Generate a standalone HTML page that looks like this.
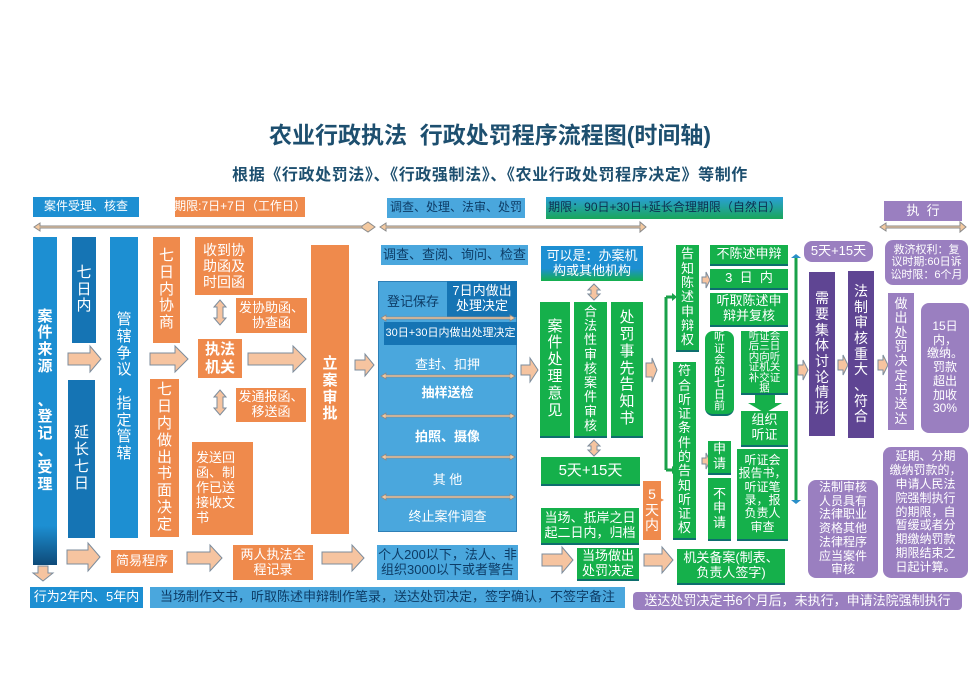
<!DOCTYPE html>
<html><head><meta charset="utf-8">
<style>
body{margin:0;width:980px;height:693px;background:#fff;position:relative;overflow:hidden;font-family:"Liberation Sans","Noto Sans CJK SC",sans-serif;}
.b{position:absolute;box-sizing:border-box;color:#fff;display:flex;align-items:center;justify-content:center;text-align:center;line-height:1.15;font-size:13px;white-space:nowrap;overflow:hidden;}
.bl{background:#1d8fd2;}
.db{background:#1574b4;}
.lb{background:#4aa7dd;}
.or{background:#ef8a4c;}
.gr{background:#15b04b;border-bottom:2px solid #0e6e6e;}
.pu{background:#9a7fc0;}
.dp{background:#5f4593;}
.v{flex-direction:column;font-size:15px;line-height:1.12;}
.t{position:absolute;left:0;width:980px;text-align:center;color:#1d4f6f;font-weight:bold;}
.r{border-radius:8px;}
</style></head><body>
<div class="t" style="top:116px;font-size:23px;">农业行政执法&nbsp;&nbsp;行政处罚程序流程图(时间轴)</div>
<div class="t" style="top:161px;font-size:16px;letter-spacing:0.6px;">根据《行政处罚法》、《行政强制法》、《农业行政处罚程序决定》等制作</div>

<!-- headers -->
<div class="b bl" style="left:33px;top:197px;width:106px;height:20px;font-size:12px;">案件受理、核查</div>
<div class="b or" style="left:175px;top:197px;width:130px;height:20px;font-size:12px;">期限:7日+7日（工作日）</div>
<div class="b lb" style="left:387px;top:198px;width:138px;height:20px;color:#0d3c66;font-size:12px;">调查、处理、法审、处罚</div>
<div class="b" style="left:546px;top:197px;width:237px;height:22px;background:linear-gradient(#2a9fd8,#1aa65a);color:#0d2f50;font-size:12px;">期限：90日+30日+延长合理期限（自然日）</div>
<div class="b pu" style="left:884px;top:201px;width:78px;height:20px;">执&nbsp;&nbsp;行</div>

<svg width="980" height="693" style="position:absolute;left:0;top:0">
<g fill="#f3c9a0" stroke="#8a8a8a" stroke-width="1">
<polygon points="34,227 40,223 40,226 370,226 370,228 40,228 40,231"/>
<polygon points="380,227 386,223 386,226 640,226 640,222 646,227 640,232 640,228 386,228 386,231"/>
<polygon points="880,227 886,223 886,226 960,226 960,222 966,227 960,232 960,228 886,228 886,231"/>
<polygon points="362,226 368,222 375,227 368,232 362,228"/>
</g>
<g fill="#f6c4a0" stroke="#7c8c9c" stroke-width="1">
<polygon points="68,353 90,353 90,346 101,359 90,372 90,365 68,365"/>
<polygon points="150,353 175,353 175,346 188,359 175,372 175,365 150,365"/>
<polygon points="248,353 293,353 293,346 306,359 293,372 293,365 248,365"/>
<polygon points="355,360 365,360 365,354 374,365 365,376 365,370 355,370"/>
<polygon points="521,365 530,365 530,358 538,370 530,382 530,375 521,375"/>
<polygon points="646,363 652,363 652,358 657,370 652,382 652,377 646,377"/>
<polygon points="702,277 706,277 706,272 710,280 706,288 706,283 702,283"/>
<polygon points="702,458 706,458 706,453 710,461 706,469 706,464 702,464"/>
<polygon points="798,365 803,365 803,360 808,370 803,380 803,375 798,375"/>
<polygon points="838,360 843,360 843,355 848,365 843,375 843,370 838,370"/>
<polygon points="878,360 883,360 883,355 888,365 883,375 883,370 878,370"/>
<polygon points="67,550 88,550 88,543 100,557 88,571 88,564 67,564"/>
<polygon points="187,552 210,552 210,545 222,558 210,571 210,564 187,564"/>
<polygon points="322,552 352,552 352,545 364,558 352,571 352,564 322,564"/>
<polygon points="542,554 562,554 562,547 573,560 562,573 562,566 542,566"/>
<polygon points="644,554 662,554 662,547 673,560 662,573 662,566 644,566"/>
<polygon points="38,566 48,566 48,573 53,573 43,581 33,573 38,573"/>
<polygon points="220,300 226,307 223,307 223,318 226,318 220,325 214,318 217,318 217,307 214,307"/>
<polygon points="220,390 226,397 223,397 223,408 226,408 220,415 214,408 217,408 217,397 214,397"/>
<polygon points="594,284 600,290 597,290 597,294 600,294 594,300 588,294 591,294 591,290 588,290"/>
<polygon points="594,440 600,446 597,446 597,450 600,450 594,456 588,450 591,450 591,446 588,446"/>
</g>
<polygon points="648,482 660,494 648,506" fill="#ef8a4c"/>
<polygon points="654,495 664,500 654,505" fill="#ef8a4c"/>
<g stroke="#1aa14a" stroke-width="3" fill="#1aa14a">
<line x1="666" y1="297" x2="666" y2="470"/>
<line x1="666" y1="297" x2="672" y2="297"/><line x1="666" y1="470" x2="672" y2="470"/>
<line x1="796" y1="258" x2="796" y2="500"/>
</g>
<polygon points="672,293 677,297 672,301" fill="#1aa14a"/>
<polygon points="672,466 677,470 672,474" fill="#1aa14a"/>
<polygon points="791,258 796,254 801,258" fill="#2a8fc8"/>
<polygon points="791,500 796,504 801,500" fill="#2a8fc8"/>
<polygon points="755,395 775,395 775,403 782,403 765,413 748,403 755,403" fill="#15b04b"/>
</svg>

<!-- left section -->
<div class="b bl v" style="left:33px;top:237px;width:24px;height:328px;font-weight:bold;background:linear-gradient(#1d8fd2 88%,#0e4a78);">案<br>件<br>来<br>源<br><br>、<br>登<br>记<br>、<br>受<br>理</div>
<div class="b db v" style="left:72px;top:237px;width:24px;height:106px;">七<br>日<br>内</div>
<div class="b db v" style="left:68px;top:380px;width:27px;height:158px;">延<br>长<br>七<br>日</div>
<div class="b bl v" style="left:110px;top:237px;width:28px;height:301px;">管<br>辖<br>争<br>议<br>，<br>指<br>定<br>管<br>辖</div>
<div class="b or v" style="left:153px;top:237px;width:27px;height:106px;">七<br>日<br>内<br>协<br>商</div>
<div class="b or" style="left:195px;top:237px;width:58px;height:58px;font-size:14px;">收到协<br>助函及<br>时回函</div>
<div class="b or" style="left:236px;top:298px;width:71px;height:35px;">发协助函、<br>协查函</div>
<div class="b or" style="left:198px;top:339px;width:44px;height:39px;font-size:15px;font-weight:bold;">执法<br>机关</div>
<div class="b or v" style="left:150px;top:379px;width:29px;height:158px;">七<br>日<br>内<br>做<br>出<br>书<br>面<br>决<br>定</div>
<div class="b or" style="left:236px;top:388px;width:70px;height:34px;">发通报函、<br>移送函</div>
<div class="b or" style="left:192px;top:442px;width:61px;height:93px;justify-content:flex-start;text-align:left;padding-left:4px;">发送回<br>函、制<br>作已送<br>接收文<br>书</div>
<div class="b or v" style="left:311px;top:245px;width:38px;height:289px;font-weight:bold;">立<br>案<br>审<br>批</div>
<div class="b or" style="left:111px;top:550px;width:62px;height:23px;">简易程序</div>
<div class="b or" style="left:233px;top:545px;width:80px;height:35px;">两人执法全<br>程记录</div>

<!-- middle -->
<div class="b lb" style="left:381px;top:245px;width:147px;height:20px;color:#0d3c66;">调查、查阅、询问、检查</div>
<div class="b lb" style="left:378px;top:281px;width:139px;height:251px;border:1px solid #2e7fb6;"></div>
<div class="b" style="left:380px;top:290px;width:66px;height:24px;color:#0d3c66;">登记保存</div>
<div class="b db" style="left:447px;top:281px;width:70px;height:36px;">7日内做出<br>处理决定</div>
<div class="b db" style="left:384px;top:322px;width:133px;height:23px;font-size:11px;">30日+30日内做出处理决定</div>
<div class="b" style="left:378px;top:355px;width:139px;height:20px;">查封、扣押</div>
<div class="b" style="left:378px;top:383px;width:139px;height:20px;font-weight:bold;">抽样送检</div>
<div class="b" style="left:378px;top:427px;width:139px;height:20px;font-weight:bold;">拍照、摄像</div>
<div class="b" style="left:378px;top:470px;width:139px;height:20px;">其 他</div>
<div class="b" style="left:378px;top:507px;width:139px;height:20px;">终止案件调查</div>
<svg width="980" height="693" style="position:absolute;left:0;top:0">
<g fill="#f3c9a0" stroke="#8a8a8a" stroke-width="0.8">
<polygon points="381,318 386,315 386,317 510,317 510,315 515,318 510,321 510,319 386,319 386,321"/>
<polygon points="381,376 386,373 386,375 510,375 510,373 515,376 510,379 510,377 386,377 386,379"/>
<polygon points="381,416 386,413 386,415 510,415 510,413 515,416 510,419 510,417 386,417 386,419"/>
<polygon points="381,457 386,454 386,456 510,456 510,454 515,457 510,460 510,458 386,458 386,460"/>
<polygon points="381,497 386,494 386,496 510,496 510,494 515,497 510,500 510,498 386,498 386,500"/>
</g></svg>
<div class="b lb" style="left:377px;top:545px;width:141px;height:35px;color:#0d3c66;">个人200以下，法人、非<br>组织3000以下或者警告</div>

<div class="b" style="left:541px;top:246px;width:102px;height:35px;background:linear-gradient(#1d8fd2 65%,#15b04b);">可以是：办案机<br>构或其他机构</div>
<div class="b gr v" style="left:540px;top:302px;width:30px;height:136px;">案<br>件<br>处<br>理<br>意<br>见</div>
<div class="b gr v" style="left:574px;top:302px;width:33px;height:136px;font-size:13px;line-height:1.1;">合<br>法<br>性<br>审<br>核<br>案<br>件<br>审<br>核</div>
<div class="b gr v" style="left:611px;top:302px;width:32px;height:136px;">处<br>罚<br>事<br>先<br>告<br>知<br>书</div>
<div class="b gr" style="left:541px;top:457px;width:99px;height:29px;font-size:15px;">5天+15天</div>
<div class="b gr" style="left:541px;top:508px;width:98px;height:37px;">当场、抵岸之日<br>起二日内，归档</div>
<div class="b gr" style="left:577px;top:548px;width:62px;height:33px;">当场做出<br>处罚决定</div>
<div class="b or v" style="left:643px;top:481px;width:18px;height:59px;font-size:14px;">5<br>天<br>内</div>

<!-- hearing section -->
<div class="b gr v" style="left:676px;top:245px;width:23px;height:107px;font-size:13px;line-height:1.1;">告<br>知<br>陈<br>述<br>申<br>辩<br>权</div>
<div class="b gr v" style="left:673px;top:362px;width:23px;height:178px;font-size:13px;line-height:1.1;">符<br>合<br>听<br>证<br>条<br>件<br>的<br>告<br>知<br>听<br>证<br>权</div>
<div class="b gr" style="left:710px;top:245px;width:78px;height:21px;">不陈述申辩</div>
<div class="b gr" style="left:710px;top:269px;width:78px;height:21px;">3&nbsp; 日&nbsp; 内</div>
<div class="b gr" style="left:710px;top:293px;width:78px;height:34px;">听取陈述申<br>辩并复核</div>
<div class="b gr v r" style="left:705px;top:331px;width:29px;height:85px;font-size:11px;line-height:1.05;">听<br>证<br>会<br>的<br>七<br>日<br>前</div>
<div class="b gr" style="left:741px;top:331px;width:47px;height:64px;font-size:10.5px;line-height:1.0;">听证会<br>后三日<br>内向听<br>证机关<br>补交证<br>据</div>
<div class="b gr" style="left:741px;top:411px;width:47px;height:36px;">组织<br>听证</div>
<div class="b gr v" style="left:708px;top:441px;width:23px;height:34px;font-size:13px;">申<br>请</div>
<div class="b gr v" style="left:708px;top:478px;width:23px;height:63px;font-size:13px;">不<br>申<br>请</div>
<div class="b gr" style="left:737px;top:449px;width:51px;height:92px;font-size:12px;line-height:1.12;">听证会<br>报告书，<br>听证笔<br>录，报<br>负责人<br>审查</div>
<div class="b gr" style="left:677px;top:549px;width:108px;height:36px;">机关备案(制表、<br>负责人签字)</div>

<!-- purple -->
<div class="b pu r" style="left:804px;top:241px;width:69px;height:21px;">5天+15天</div>
<div class="b dp v" style="left:809px;top:272px;width:26px;height:164px;font-size:14px;">需<br>要<br>集<br>体<br>讨<br>论<br>情<br>形</div>
<div class="b dp v" style="left:848px;top:271px;width:26px;height:167px;font-size:14px;">法<br>制<br>审<br>核<br>重<br>大<br>、<br>符<br>合</div>
<div class="b pu r" style="left:885px;top:240px;width:83px;height:45px;font-size:11px;">救济权利：复<br>议时期:60日诉<br>讼时限：6个月</div>
<div class="b pu v" style="left:888px;top:293px;width:26px;height:137px;font-size:13px;line-height:1.1;">做<br>出<br>处<br>罚<br>决<br>定<br>书<br>送<br>达</div>
<div class="b pu r" style="left:921px;top:303px;width:48px;height:130px;font-size:12px;">15日<br>内，<br>缴纳。<br>罚款<br>超出<br>加收<br>30%</div>
<div class="b pu r" style="left:808px;top:480px;width:70px;height:98px;font-size:12px;">法制审核<br>人员具有<br>法律职业<br>资格其他<br>法律程序<br>应当案件<br>审核</div>
<div class="b pu r" style="left:883px;top:447px;width:85px;height:131px;font-size:12px;">延期、分期<br>缴纳罚款的，<br>申请人民法<br>院强制执行<br>的期限，自<br>暂缓或者分<br>期缴纳罚款<br>期限结束之<br>日起计算。</div>

<!-- bottom -->
<div class="b bl" style="left:30px;top:587px;width:113px;height:21px;">行为2年内、5年内</div>
<div class="b lb" style="left:150px;top:587px;width:475px;height:21px;color:#0d3c66;">当场制作文书，听取陈述申辩制作笔录，送达处罚决定，签字确认，不签字备注</div>
<div class="b pu" style="left:633px;top:592px;width:329px;height:18px;border-radius:4px;">送达处罚决定书6个月后，未执行，申请法院强制执行</div>
</body></html>
